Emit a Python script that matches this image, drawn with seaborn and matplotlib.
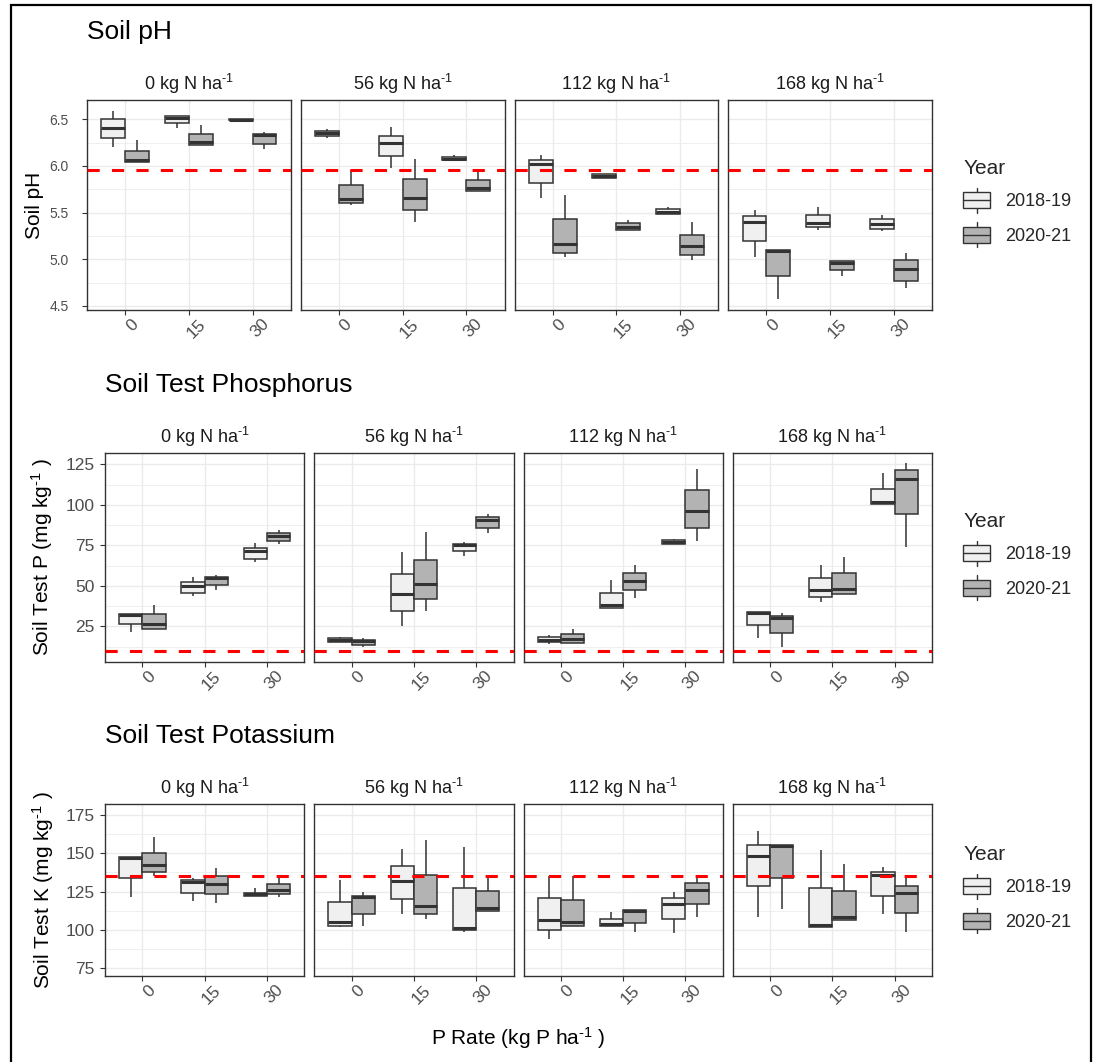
import numpy as np
import pandas as pd
import matplotlib
matplotlib.use("Agg")
import matplotlib.pyplot as plt
import seaborn as sns
from matplotlib.patches import Rectangle, Patch
from matplotlib.lines import Line2D
from matplotlib.legend_handler import HandlerBase
from matplotlib.transforms import ScaledTranslation

# ---------------------------------------------------------------- data
N_RATES = ["0", "56", "112", "168"]
P_RATES = ["0", "15", "30"]
YEARS = ["2018-19", "2020-21"]

# each box: (min, q1, median, q3, max); rows = N rate, columns = P rate
ph_2018 = [
    [(6.20, 6.30, 6.41, 6.50, 6.59), (6.41, 6.46, 6.51, 6.54, 6.54), (6.49, 6.49, 6.49, 6.50, 6.50)],
    [(6.30, 6.32, 6.35, 6.37, 6.40), (5.98, 6.11, 6.25, 6.32, 6.42), (6.065, 6.065, 6.08, 6.10, 6.12)],
    [(5.66, 5.82, 6.02, 6.06, 6.12), (5.87, 5.87, 5.89, 5.91, 5.91), (5.49, 5.49, 5.51, 5.54, 5.56)],
    [(5.03, 5.20, 5.40, 5.46, 5.53), (5.31, 5.35, 5.39, 5.48, 5.56), (5.30, 5.33, 5.38, 5.43, 5.48)],
]
ph_2020 = [
    [(6.04, 6.04, 6.06, 6.16, 6.28), (6.22, 6.22, 6.26, 6.34, 6.44), (6.18, 6.24, 6.33, 6.34, 6.36)],
    [(5.58, 5.60, 5.65, 5.80, 5.96), (5.40, 5.53, 5.66, 5.86, 6.08), (5.73, 5.73, 5.76, 5.85, 5.96)],
    [(5.03, 5.07, 5.16, 5.43, 5.69), (5.31, 5.31, 5.35, 5.39, 5.42), (4.99, 5.05, 5.14, 5.26, 5.40)],
    [(4.58, 4.82, 5.09, 5.10, 5.10), (4.82, 4.89, 4.96, 4.98, 4.98), (4.69, 4.77, 4.90, 4.99, 5.07)],
]
p_2018 = [
    [(21.5, 26.6, 31.8, 32.4, 32.4), (43.5, 45.8, 49.9, 52.3, 55.4), (64.7, 66.8, 71.3, 73.5, 76.4)],
    [(15.5, 15.5, 16.7, 17.8, 18.4), (25.0, 34.4, 45.1, 57.5, 70.9), (68.2, 71.5, 75.0, 76.0, 77.0)],
    [(14.3, 15.3, 16.7, 18.4, 19.4), (36.5, 36.5, 37.9, 45.8, 53.4), (75.8, 75.8, 77.0, 78.1, 78.9)],
    [(17.8, 25.6, 33.2, 33.8, 33.8), (40.0, 43.1, 47.2, 55.0, 62.6), (100.7, 100.7, 101.7, 110.0, 119.6)],
]
p_2020 = [
    [(23.5, 23.5, 26.6, 32.4, 37.9), (47.2, 50.3, 54.8, 55.4, 56.5), (75.6, 77.7, 80.8, 82.6, 84.3)],
    [(12.2, 13.2, 15.7, 16.7, 17.8), (34.2, 42.1, 50.9, 66.1, 83.2), (82.8, 85.9, 90.8, 92.5, 94.5)],
    [(14.7, 14.7, 17.0, 20.5, 23.1), (42.7, 47.2, 53.0, 57.9, 62.6), (77.5, 85.9, 96.0, 108.9, 122.3)],
    [(12.2, 20.9, 30.3, 31.2, 33.2), (44.7, 44.7, 48.2, 57.9, 67.8), (74.0, 94.5, 116.2, 121.3, 125.8)],
]
k_2018 = [
    [(121.3, 134.1, 146.7, 147.4, 147.4), (119.1, 124.3, 130.9, 132.2, 134.1), (122.2, 122.2, 123.3, 124.3, 127.6)],
    [(101.7, 102.8, 105.4, 118.5, 132.6), (110.4, 120.4, 132.0, 141.7, 152.8), (98.9, 100.0, 101.1, 127.2, 153.9)],
    [(93.9, 100.0, 106.5, 120.7, 134.8), (102.8, 102.8, 103.9, 107.0, 112.0), (97.8, 107.0, 117.0, 120.7, 124.6)],
    [(108.7, 128.3, 148.3, 155.4, 164.6), (102.2, 102.2, 103.3, 127.2, 152.2), (110.4, 122.4, 135.9, 138.0, 141.3)],
]
k_2020 = [
    [(134.8, 138.0, 142.6, 150.4, 160.4), (117.4, 123.3, 129.8, 134.8, 140.2), (121.3, 123.5, 126.1, 130.0, 134.8)],
    [(102.6, 110.4, 121.3, 122.4, 125.0), (107.4, 110.4, 115.6, 135.9, 158.7), (112.6, 112.6, 114.1, 125.4, 135.9)],
    [(102.8, 102.8, 105.0, 119.6, 134.8), (98.9, 104.8, 112.4, 113.0, 113.0), (108.7, 116.7, 126.1, 130.4, 134.8)],
    [(113.5, 134.1, 154.8, 155.4, 155.4), (106.5, 106.5, 108.7, 125.4, 143.0), (98.9, 110.9, 123.9, 128.3, 134.8)],
]

# critical soil-test levels (dashed reference lines)
PH_CRIT = 5.96
P_CRIT = 10
K_CRIT = 135

# ---------------------------------------------------------------- style
sns.set_theme(style="white")
plt.rcParams["font.family"] = ["Liberation Sans", "DejaVu Sans"]
plt.rcParams["mathtext.fontset"] = "custom"
plt.rcParams["mathtext.rm"] = "Liberation Sans"
plt.rcParams["mathtext.it"] = "Liberation Sans:italic"
plt.rcParams["mathtext.bf"] = "Liberation Sans:bold"
plt.rcParams["mathtext.default"] = "regular"

EDGE = "#333333"
PALETTE = {"2018-19": "#F0F0F0", "2020-21": "#B3B3B3"}
GRID = "#EBEBEB"
TICKCOL = "#4D4D4D"
INV = "$^{\u2010" + "1}$"   # superscript "-1" drawn with a short hyphen

W, H = 1096, 1062
fig = plt.figure(figsize=(W / 100, H / 100), dpi=100)
fig.patch.set_facecolor("white")


def px_rect(x0, y0, x1, y1):
    return [x0 / W, 1 - y1 / H, (x1 - x0) / W, (y1 - y0) / H]


def long_frame(box_2018, box_2020):
    rows = []
    for year, boxes in zip(YEARS, (box_2018, box_2020)):
        for n, per_n in zip(N_RATES, boxes):
            for p, stats in zip(P_RATES, per_n):
                for v in stats:
                    rows.append({"N": n, "P": p, "Year": year, "value": v})
    return pd.DataFrame(rows)


class BoxKey(HandlerBase):
    def create_artists(self, legend, orig_handle, xdescent, ydescent,
                       width, height, fontsize, trans):
        x0, y0 = -xdescent, -ydescent
        cx = x0 + width / 2
        b0, b1 = y0 + height / 6, y0 + 5 * height / 6
        box = Rectangle((x0, b0), width, b1 - b0,
                        facecolor=orig_handle.get_facecolor(),
                        edgecolor=EDGE, linewidth=1.0, transform=trans)
        med = Line2D([x0, x0 + width], [(b0 + b1) / 2] * 2, color=EDGE,
                     lw=1.0, transform=trans)
        w1 = Line2D([cx, cx], [y0, b0], color=EDGE, lw=1.0, transform=trans)
        w2 = Line2D([cx, cx], [b1, y0 + height], color=EDGE, lw=1.0, transform=trans)
        return [w1, w2, box, med]


rows = [
    dict(title="Soil pH", data=long_frame(ph_2018, ph_2020), crit=PH_CRIT,
         top=100, bottom=310, left=87, ylim=(4.457, 6.707),
         yticks=[4.5, 5.0, 5.5, 6.0, 6.5], ylabels=["4.5", "5.0", "5.5", "6.0", "6.5"],
         minor=[4.75, 5.25, 5.75, 6.25], ysize=10, ypad=9.5,
         ylabel="Soil pH", ylab_x=35, legend_y=152),
    dict(title="Soil Test Phosphorus", data=long_frame(p_2018, p_2020), crit=P_CRIT,
         top=453, bottom=662, left=105, ylim=(3.0, 132.0),
         yticks=[25, 50, 75, 100, 125], ylabels=["25", "50", "75", "100", "125"],
         minor=[12.5, 37.5, 62.5, 87.5, 112.5], ysize=12.5, ypad=4,
         ylabel="Soil Test P (mg kg" + INV + " )", ylab_x=42, legend_y=505),
    dict(title="Soil Test Potassium", data=long_frame(k_2018, k_2020), crit=K_CRIT,
         top=804, bottom=976, left=105, ylim=(70.0, 182.0),
         yticks=[75, 100, 125, 150, 175], ylabels=["75", "100", "125", "150", "175"],
         minor=[87.5, 112.5, 137.5, 162.5], ysize=12.5, ypad=4,
         ylabel="Soil Test K (mg kg" + INV + " )", ylab_x=43, legend_y=838),
]

RIGHT = 932
GAP = 10

for row in rows:
    pw = (RIGHT - row["left"] - 3 * GAP) / 4
    for i, n in enumerate(N_RATES):
        x0 = row["left"] + i * (pw + GAP)
        ax = fig.add_axes(px_rect(x0, row["top"], x0 + pw, row["bottom"]))
        sub = row["data"][row["data"]["N"] == n]
        sns.boxplot(data=sub, x="P", y="value", hue="Year", order=P_RATES,
                    hue_order=YEARS, palette=PALETTE, width=0.75, gap=0,
                    whis=np.inf, linecolor=EDGE, linewidth=1.1, showcaps=False,
                    medianprops=dict(linewidth=2.2, color=EDGE),
                    legend=False, ax=ax, zorder=3)
        ax.axhline(row["crit"], color="red", lw=2.2, dashes=(4, 4), zorder=6)

        ax.set_xlim(-0.6, 2.6)
        ax.set_ylim(*row["ylim"])
        ax.set_yticks(row["yticks"])
        ax.set_yticks(row["minor"], minor=True)
        ax.set_axisbelow(True)
        ax.grid(which="major", color=GRID, lw=1.0)
        ax.grid(which="minor", axis="y", color=GRID, lw=0.55)
        ax.tick_params(which="minor", length=0)
        for sp in ax.spines.values():
            sp.set_color(EDGE)
            sp.set_linewidth(1.0)
        ax.set_xlabel("")
        ax.set_ylabel("")

        ax.tick_params(axis="x", which="major", length=3.5, width=0.8,
                       color=EDGE, labelcolor=TICKCOL, labelsize=12.5, pad=1,
                       bottom=True)
        ax.set_xticks(range(len(P_RATES)))
        ax.set_xticklabels(P_RATES, rotation=45, ha="center", va="top")
        shift = ScaledTranslation(7 / 100, 0, fig.dpi_scale_trans)
        for lab in ax.get_xticklabels():
            lab.set_transform(lab.get_transform() + shift)

        if i == 0:
            ax.set_yticklabels(row["ylabels"])
            ax.tick_params(axis="y", which="major", length=3.5, width=0.8,
                           color=EDGE, labelcolor=TICKCOL,
                           labelsize=row["ysize"], pad=row["ypad"], left=True)
        else:
            ax.tick_params(axis="y", which="major", left=False, labelleft=False)

        fig.text((x0 + pw / 2) / W, 1 - (row["top"] - 10) / H,
                 f"{n} kg N ha" + INV, ha="center", va="baseline",
                 fontsize=13, color="#1A1A1A")

    # row title
    fig.text(row["left"] / W, 1 - (row["top"] - 61) / H, row["title"],
             ha="left", va="baseline", fontsize=19, color="black")
    # y axis title
    fig.text(row["ylab_x"] / W, 1 - ((row["top"] + row["bottom"]) / 2) / H,
             row["ylabel"], rotation=90, ha="center", va="center",
             fontsize=15, color="black")
    # legend
    handles = [Patch(facecolor=PALETTE[y], edgecolor=EDGE) for y in YEARS]
    fig.legend(handles=handles, labels=YEARS, title="Year",
               handler_map={Patch: BoxKey()}, loc="upper left",
               bbox_to_anchor=(956 / W, 1 - row["legend_y"] / H),
               frameon=False, fontsize=13, title_fontsize=15, alignment="left",
               handlelength=1.5, handleheight=1.7, labelspacing=0.55,
               handletextpad=0.8, borderpad=0.4, borderaxespad=0)

# shared x axis title
fig.text(518 / W, 1 - 1045 / H, "P Rate (kg P ha" + INV + " )", ha="center",
         va="baseline", fontsize=15, color="black")

# outer frame
fig.add_artist(Rectangle((11 / W, -0.02), (1091 - 11) / W, 1.02 - 5 / H,
                         transform=fig.transFigure, fill=False,
                         edgecolor="black", linewidth=1.6))

fig.savefig("out.png", dpi=100)
